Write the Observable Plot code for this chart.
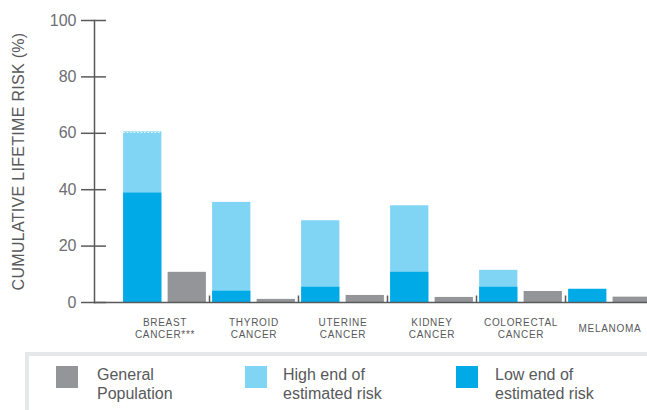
<!DOCTYPE html>
<html>
<head>
<meta charset="utf-8">
<script src="https://cdn.jsdelivr.net/npm/d3@7"></script>
<script src="https://cdn.jsdelivr.net/npm/@observablehq/plot@0.6"></script>
<style>
  html, body { margin: 0; padding: 0; background: #fff; overflow: hidden; width: 647px; height: 410px; }
  #chart svg { display: block; }
  .legend { position: absolute; left: 25px; top: 352px; width: 640px; height: 80px;
    border: 4px solid #e6e7e8; border-right: none; border-bottom: none; box-sizing: border-box;
    font-family: "Liberation Sans", Arial, sans-serif; font-size: 16px; color: #58595b; line-height: 19px; }
  .legend .sw { position: absolute; top: 10px; width: 22px; height: 22px; }
  .legend .lb { position: absolute; top: 9px; }
</style>
</head>
<body>
<div id="chart"></div>
<div class="legend" id="legend"></div>
<script>
const categories = ["Breast", "Thyroid", "Uterine", "Kidney", "Colorectal", "Melanoma"];
const tickLabels = ["BREAST\nCANCER***", "THYROID\nCANCER", "UTERINE\nCANCER", "KIDNEY\nCANCER", "COLORECTAL\nCANCER", "MELANOMA"];
const highRisk = [60.5, 35.5, 29, 34.3, 11.4, null];
const lowRisk = [38.8, 4, 5.4, 10.7, 5.4, 4.7];
const generalPop = [10.7, 1.1, 2.5, 1.8, 3.9, 1.9];
const yTicks = [0, 20, 40, 60, 80, 100];
const seriesNames = ["General\nPopulation", "High end of\nestimated risk", "Low end of\nestimated risk"];
const colors = { gen: "#939598", high: "#80d5f4", low: "#00aae7" };

const rows = categories.map((c, i) => ({
  cat: c, label: tickLabels[i], high: highRisk[i], low: lowRisk[i], gen: generalPop[i]
}));
const slots = categories.flatMap(c => [c + "|risk", c + "|gen"]);

const W = 647, marginLeft = 94;
const xStart = 120, catWidth = 89;
const step = catWidth / 2;
const pIn = 0.14, pOut = 0.07;
const bw = step * (1 - pIn);

const axisColor = "#58595b";
const textColor = "#6d6e71";

const chart = Plot.plot({
  width: W,
  height: 350,
  marginLeft,
  marginRight: 0,
  marginTop: 20,
  marginBottom: 48,
  style: { fontFamily: "'Liberation Sans', Arial, sans-serif", background: "#fff" },
  x: { type: "band", domain: slots, range: [xStart, xStart + catWidth * categories.length],
       paddingInner: pIn, paddingOuter: pOut, round: false, axis: null },
  y: { domain: [0, 100], axis: null },
  marks: [
    Plot.barY(rows.filter(d => d.high != null), { x: d => d.cat + "|risk", y: "high", fill: colors.high }),
    Plot.barY(rows, { x: d => d.cat + "|risk", y: "low", fill: colors.low }),
    Plot.tickY(rows.slice(0, 1), { x: d => d.cat + "|risk", y: "high", stroke: "#fff", strokeDasharray: "1.5,2", strokeWidth: 1, dy: 0.5 }),
    Plot.barY(rows, { x: d => d.cat + "|gen", y: "gen", fill: colors.gen }),
    Plot.ruleY([0], { stroke: axisColor, strokeWidth: 1.5 }),
    Plot.ruleX(rows.slice(0, -1), { x: d => d.cat + "|gen", y1: 0, y2: 2.3, dx: bw / 2 + step * pOut, stroke: axisColor, strokeWidth: 1.5 }),
    Plot.frame({ anchor: "left", stroke: axisColor, strokeWidth: 1.5 }),
    Plot.axisY({ ticks: yTicks, tickSize: 25, dx: 12, tickPadding: 5, stroke: axisColor, strokeWidth: 1.5,
                 fontSize: 16, fill: textColor, label: null, tickFormat: d => String(d) }),
    Plot.axisY({ ticks: [], tickSize: 0, label: "CUMULATIVE LIFETIME RISK (%)", labelAnchor: "center", labelArrow: "none",
                 labelOffset: 82, fontSize: 16, fill: axisColor }),
    Plot.text(rows, { x: d => d.cat + "|risk", y: 0, dx: step / 2, dy: 26, text: "label",
                      lineAnchor: "middle", lineHeight: 1.2, fontSize: 10, fill: axisColor })
  ]
});
document.getElementById("chart").appendChild(chart);

// letter-spacing for category labels and the y-axis title
chart.querySelectorAll("text").forEach(t => {
  if (t.textContent.startsWith("CUMULATIVE")) t.setAttribute("letter-spacing", "0.3");
  else if (/[A-Z]{3,}/.test(t.textContent)) t.setAttribute("letter-spacing", "0.7");
});

const legend = document.getElementById("legend");
const legendPos = [{ sw: 27, lb: 68, c: colors.gen }, { sw: 216, lb: 254, c: colors.high }, { sw: 427, lb: 466, c: colors.low }];
seriesNames.forEach((name, i) => {
  const sw = document.createElement("div");
  sw.className = "sw"; sw.style.left = legendPos[i].sw + "px"; sw.style.background = legendPos[i].c;
  const lb = document.createElement("div");
  lb.className = "lb"; lb.style.left = legendPos[i].lb + "px";
  lb.innerHTML = name.split("\n").join("<br>");
  legend.appendChild(sw); legend.appendChild(lb);
});
</script>
</body>
</html>
